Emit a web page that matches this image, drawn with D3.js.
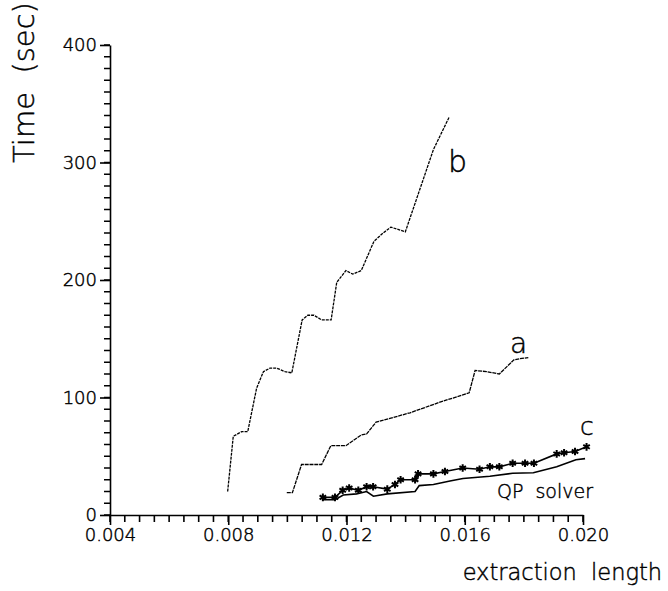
<!DOCTYPE html>
<html>
<head>
<meta charset="utf-8">
<script src="https://cdn.jsdelivr.net/npm/d3@7"></script>
<style>
  body { margin: 0; background: #fff; }
  svg text { font-family: "DejaVu Sans", sans-serif; font-weight: 200; fill: #000; stroke: #000; stroke-width: 0.45px; white-space: pre; }
</style>
</head>
<body>
<div id="chart"></div>
<script>
// curve values: [extraction length, time in sec]
var curveB = [[0.00798, 20], [0.00817, 67], [0.00846, 71], [0.00866, 71], [0.00896, 108], [0.00919, 122],
    [0.00941, 125], [0.00964, 125], [0.00992, 122], [0.01015, 121], [0.01050, 166], [0.01069, 170],
    [0.01090, 170], [0.01116, 166], [0.01148, 166], [0.01167, 198], [0.01198, 208], [0.01221, 205],
    [0.01250, 208], [0.01293, 233], [0.01324, 240], [0.01350, 245], [0.01399, 241], [0.01494, 311],
    [0.01548, 339]];
var curveA = [[0.00998, 19], [0.01017, 19], [0.01048, 43], [0.01116, 43], [0.01147, 59], [0.01198, 59],
    [0.01249, 68], [0.01268, 69], [0.01300, 79], [0.01415, 87], [0.01516, 96], [0.01615, 104],
    [0.01635, 123], [0.01674, 122], [0.01717, 120], [0.01766, 132], [0.01787, 133], [0.01815, 134]];
var curveC = [[0.01120, 15], [0.01161, 15], [0.01187, 21], [0.01209, 23], [0.01240, 21], [0.01268, 24],
    [0.01290, 24], [0.01338, 22], [0.01364, 26], [0.01383, 30], [0.01432, 30], [0.01442, 35],
    [0.01494, 35], [0.01533, 37], [0.01593, 40], [0.01650, 39], [0.01685, 41], [0.01717, 41],
    [0.01762, 44], [0.01804, 44], [0.01834, 44], [0.01911, 52], [0.01936, 53], [0.01973, 54],
    [0.02012, 58]];
var curveQP = [[0.01120, 13], [0.01161, 13], [0.01189, 17], [0.01234, 18], [0.01268, 20], [0.01291, 16],
    [0.01338, 18], [0.01432, 20], [0.01446, 25], [0.01494, 26], [0.01550, 29], [0.01594, 31],
    [0.01685, 33], [0.01762, 35.5], [0.01832, 36], [0.01911, 41], [0.01976, 47], [0.02007, 48]];

var xMajor = [0.004, 0.008, 0.012, 0.016, 0.020];
var xLabels = ["0.004", "0.008", "0.012", "0.016", "0.020"];
var yMajor = [0, 100, 200, 300, 400];

var width = 668, height = 591;

var svg = d3.select("#chart").append("svg")
    .attr("width", width)
    .attr("height", height);

var x = d3.scaleLinear().domain([0.004, 0.020]).range([110, 583]);
var y = d3.scaleLinear().domain([0, 400]).range([515, 45]);

var xMinor = d3.range(0, 33).map(function(i) { return 0.004 + i * 0.0005; });
var yMinor = d3.range(0, 41).map(function(i) { return i * 10; });

// minor ticks, one path per axis
var xTickPath = xMinor.map(function(d) {
    return "M" + x(d) + "," + y(0) + "v7";
}).join("");
var yTickPath = yMinor.map(function(d) {
    return "M" + x(0.004) + "," + y(d) + "h-6";
}).join("");
svg.append("path").attr("d", xTickPath).attr("stroke", "#000").attr("stroke-width", 1.6).attr("fill", "none");
svg.append("path").attr("d", yTickPath).attr("stroke", "#000").attr("stroke-width", 1.6).attr("fill", "none");

var gX = svg.append("g")
    .attr("transform", "translate(0,515)")
    .call(d3.axisBottom(x).tickValues(xMajor).tickSize(10).tickSizeOuter(0).tickPadding(3)
        .tickFormat(function(d, i) { return xLabels[i]; }));
var gY = svg.append("g")
    .attr("transform", "translate(110,0)")
    .call(d3.axisLeft(y).tickValues(yMajor).tickSize(10).tickSizeOuter(0).tickPadding(3));

svg.selectAll(".domain").attr("stroke", "#000").attr("stroke-width", 1.6);
svg.selectAll(".tick line").attr("stroke", "#000").attr("stroke-width", 1.6);
svg.selectAll(".tick text")
    .style("font-family", "DejaVu Sans, sans-serif")
    .style("font-weight", 200)
    .style("font-size", "18px")
    .attr("fill", "#000");

var line = d3.line()
    .x(function(d) { return x(d[0]); })
    .y(function(d) { return y(d[1]); });

svg.append("path").datum(curveB)
    .attr("d", line)
    .attr("fill", "none")
    .attr("stroke", "#000")
    .attr("stroke-width", 1.3)
    .attr("stroke-dasharray", "3,1");
svg.append("path").datum(curveA)
    .attr("d", line)
    .attr("fill", "none")
    .attr("stroke", "#000")
    .attr("stroke-width", 1.3)
    .attr("stroke-dasharray", "4,0.8");
svg.append("path").datum(curveQP)
    .attr("d", line)
    .attr("fill", "none")
    .attr("stroke", "#000")
    .attr("stroke-width", 1.6);
svg.append("path").datum(curveC)
    .attr("d", line)
    .attr("fill", "none")
    .attr("stroke", "#000")
    .attr("stroke-width", 1.6);

var star = d3.symbol().type(d3.symbolAsterisk).size(40);
svg.selectAll(".star").data(curveC)
    .enter().append("path")
    .attr("class", "star")
    .attr("d", star)
    .attr("transform", function(d) { return "translate(" + x(d[0]) + "," + y(d[1]) + ")"; })
    .attr("fill", "none")
    .attr("stroke", "#000")
    .attr("stroke-width", 2);

// curve labels
svg.append("text").attr("x", x(0.01543)).attr("y", y(292)).style("font-size", "30px").text("b");
svg.append("text").attr("x", x(0.01753)).attr("y", y(138)).style("font-size", "28px").text("a");
svg.append("text").attr("x", x(0.01990)).attr("y", y(68)).style("font-size", "25px").text("c");
svg.append("text").attr("x", x(0.01709)).attr("y", y(14.5)).style("font-size", "19px").text("QP  solver");

// axis titles
svg.append("text")
    .attr("transform", "translate(34,163) rotate(-90)")
    .style("font-size", "29px")
    .text("Time  (sec)");
svg.append("text")
    .attr("x", 662)
    .attr("y", 580)
    .attr("text-anchor", "end")
    .style("font-size", "22.5px")
    .text("extraction  length");
</script>
</body>
</html>
